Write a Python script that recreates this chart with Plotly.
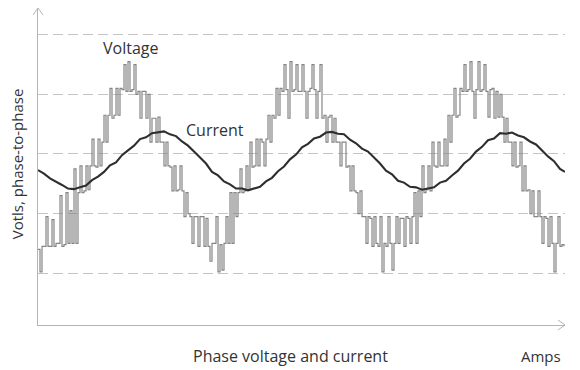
"""Phase voltage (PWM) and current waveform sketch."""

import plotly.graph_objects as go

# voltage samples, one every 2 time units (t = 0 .. 526)
voltage_t = list(range(0, 528, 2))
voltage_v = [
    -160, -198, -155, -155, -105, -155, -155, -110, -155, -150,
    -150, -70, -155, -152, -65, -150, -95, -150, -25, -150,
    -65, -20, -65, -62, -20, -60, -20, 25, -20, -22,
    25, -20, 20, 65, 20, 65, 110, 60, 65, 110,
    65, 110, 108, 150, 105, 155, 105, 108, 150, 100,
    105, 60, 105, 105, 60, 100, 20, 60, 60, 20,
    62, 20, 20, -20, 20, -20, -22, -62, -20, -62,
    -60, -20, -62, -105, -65, -100, -105, -150, -105, -105,
    -155, -105, -105, -155, -108, -155, -180, -150, -150, -105,
    -198, -152, -195, -150, -105, -150, -65, -150, -65, -105,
    -65, -25, -65, -62, -20, -60, 20, -22, -20, 25,
    -20, 25, 20, -20, 25, 65, 20, 65, 60, 110,
    65, 110, 105, 150, 108, 60, 155, 105, 108, 150,
    105, 105, 150, 105, 60, 105, 110, 150, 108, 60,
    105, 150, 60, 65, 20, 62, 65, 20, 60, 20,
    20, -20, 20, 20, -22, -20, -62, -20, -62, -65,
    -100, -62, -105, -105, -150, -105, -108, -155, -105, -150,
    -155, -105, -198, -150, -155, -105, -150, -195, -150, -105,
    -150, -108, -108, -155, -105, -108, -150, -105, -65, -150,
    -62, -105, -20, -65, -60, -20, -62, 20, -20, -22,
    20, -20, -20, 25, -20, 65, 20, 65, 110, 62,
    65, 110, 105, 150, 105, 108, 155, 105, 60, 108,
    155, 105, 108, 150, 105, 62, 108, 110, 60, 105,
    62, 100, 62, 20, 60, 20, 20, -20, 20, -22,
    -20, 20, -62, -20, -62, -60, -100, -62, -105, -105,
    -62, -105, -150, -105, -108, -155, -105, -150, -198, -150,
    -105, -155, -152, -155,
]

# current samples, one every 6 time units plus the end point
current_t = list(range(0, 523, 6)) + [527]
current_v = [
    -27, -33, -41, -46, -52, -58, -59, -56, -53, -44,
    -38, -30, -19, -14, -2, 6, 14, 25, 28, 35,
    36, 38, 33, 30, 21, 14, 4, -6, -16, -30,
    -36, -46, -51, -58, -58, -61, -58, -55, -46, -40,
    -29, -21, -9, -1, 11, 17, 26, 29, 36, 37,
    34, 33, 24, 18, 9, 4, -6, -16, -28, -34,
    -45, -48, -55, -56, -60, -58, -56, -48, -45, -36,
    -28, -16, -8, 4, 12, 23, 26, 35, 34, 36,
    31, 28, 21, 16, 6, -4, -12, -25, -30,
]

grid_levels = [-200, -100, 0, 100, 200]

fig = go.Figure()

fig.add_trace(go.Scatter(
    x=voltage_t, y=voltage_v, mode='lines', line_shape='hv',
    line=dict(color='#858585', width=1.2), name='Voltage',
    hoverinfo='skip'
))
fig.add_trace(go.Scatter(
    x=current_t, y=current_v, mode='lines',
    line=dict(color='#2e2e2e', width=2.1), name='Current',
    hoverinfo='skip'
))

fig.update_xaxes(
    range=[0, 527], showgrid=False, zeroline=False, showticklabels=False,
    ticks='', showline=True, linecolor='#b4b4b4', linewidth=1
)
fig.update_yaxes(
    range=[-287, 245], tickvals=grid_levels, showticklabels=False, ticks='',
    showgrid=True, gridcolor='#c4c4c4', gridwidth=1, griddash='10px,5px',
    zeroline=False, showline=True, linecolor='#b4b4b4', linewidth=1
)

# open arrow heads at the ends of both axes
arrow = dict(type='path', xref='paper', yref='paper',
             xsizemode='pixel', ysizemode='pixel',
             line=dict(color='#b4b4b4', width=1))
fig.add_shape(**arrow, xanchor=0, yanchor=1, path='M -5,-7 L 0,0 L 5,-7')
fig.add_shape(**arrow, xanchor=1, yanchor=0, path='M -7,5 L 0,0 L -7,-5')

big = dict(family='Open Sans', size=16, color='#333333')
small = dict(family='Open Sans', size=15, color='#333333')
labels = [
    dict(text='Voltage', x=0.175, y=0.874, xanchor='center', font=big),
    dict(text='Current', x=0.336, y=0.615, xanchor='center', font=big),
    dict(text='Phase voltage and current', x=0.48, y=-0.098,
         xanchor='center', font=big),
    dict(text='Amps', x=0.996, y=-0.098, xanchor='right', font=small),
]
for lab in labels:
    fig.add_annotation(**lab, xref='paper', yref='paper', yanchor='middle',
                       showarrow=False)
fig.add_annotation(text='Votls, phase-to-phase', x=-0.04, y=0.51,
                   xref='paper', yref='paper', textangle=-90,
                   xanchor='center', yanchor='middle', showarrow=False,
                   font=small)

# page body adds an 8px offset, so the figure is 8px smaller and shifted
fig.update_layout(
    width=572, height=362,
    margin=dict(l=30, r=15, t=0, b=45),
    paper_bgcolor='white', plot_bgcolor='white',
    showlegend=False, hovermode=False
)

fig.write_html("out.html")
